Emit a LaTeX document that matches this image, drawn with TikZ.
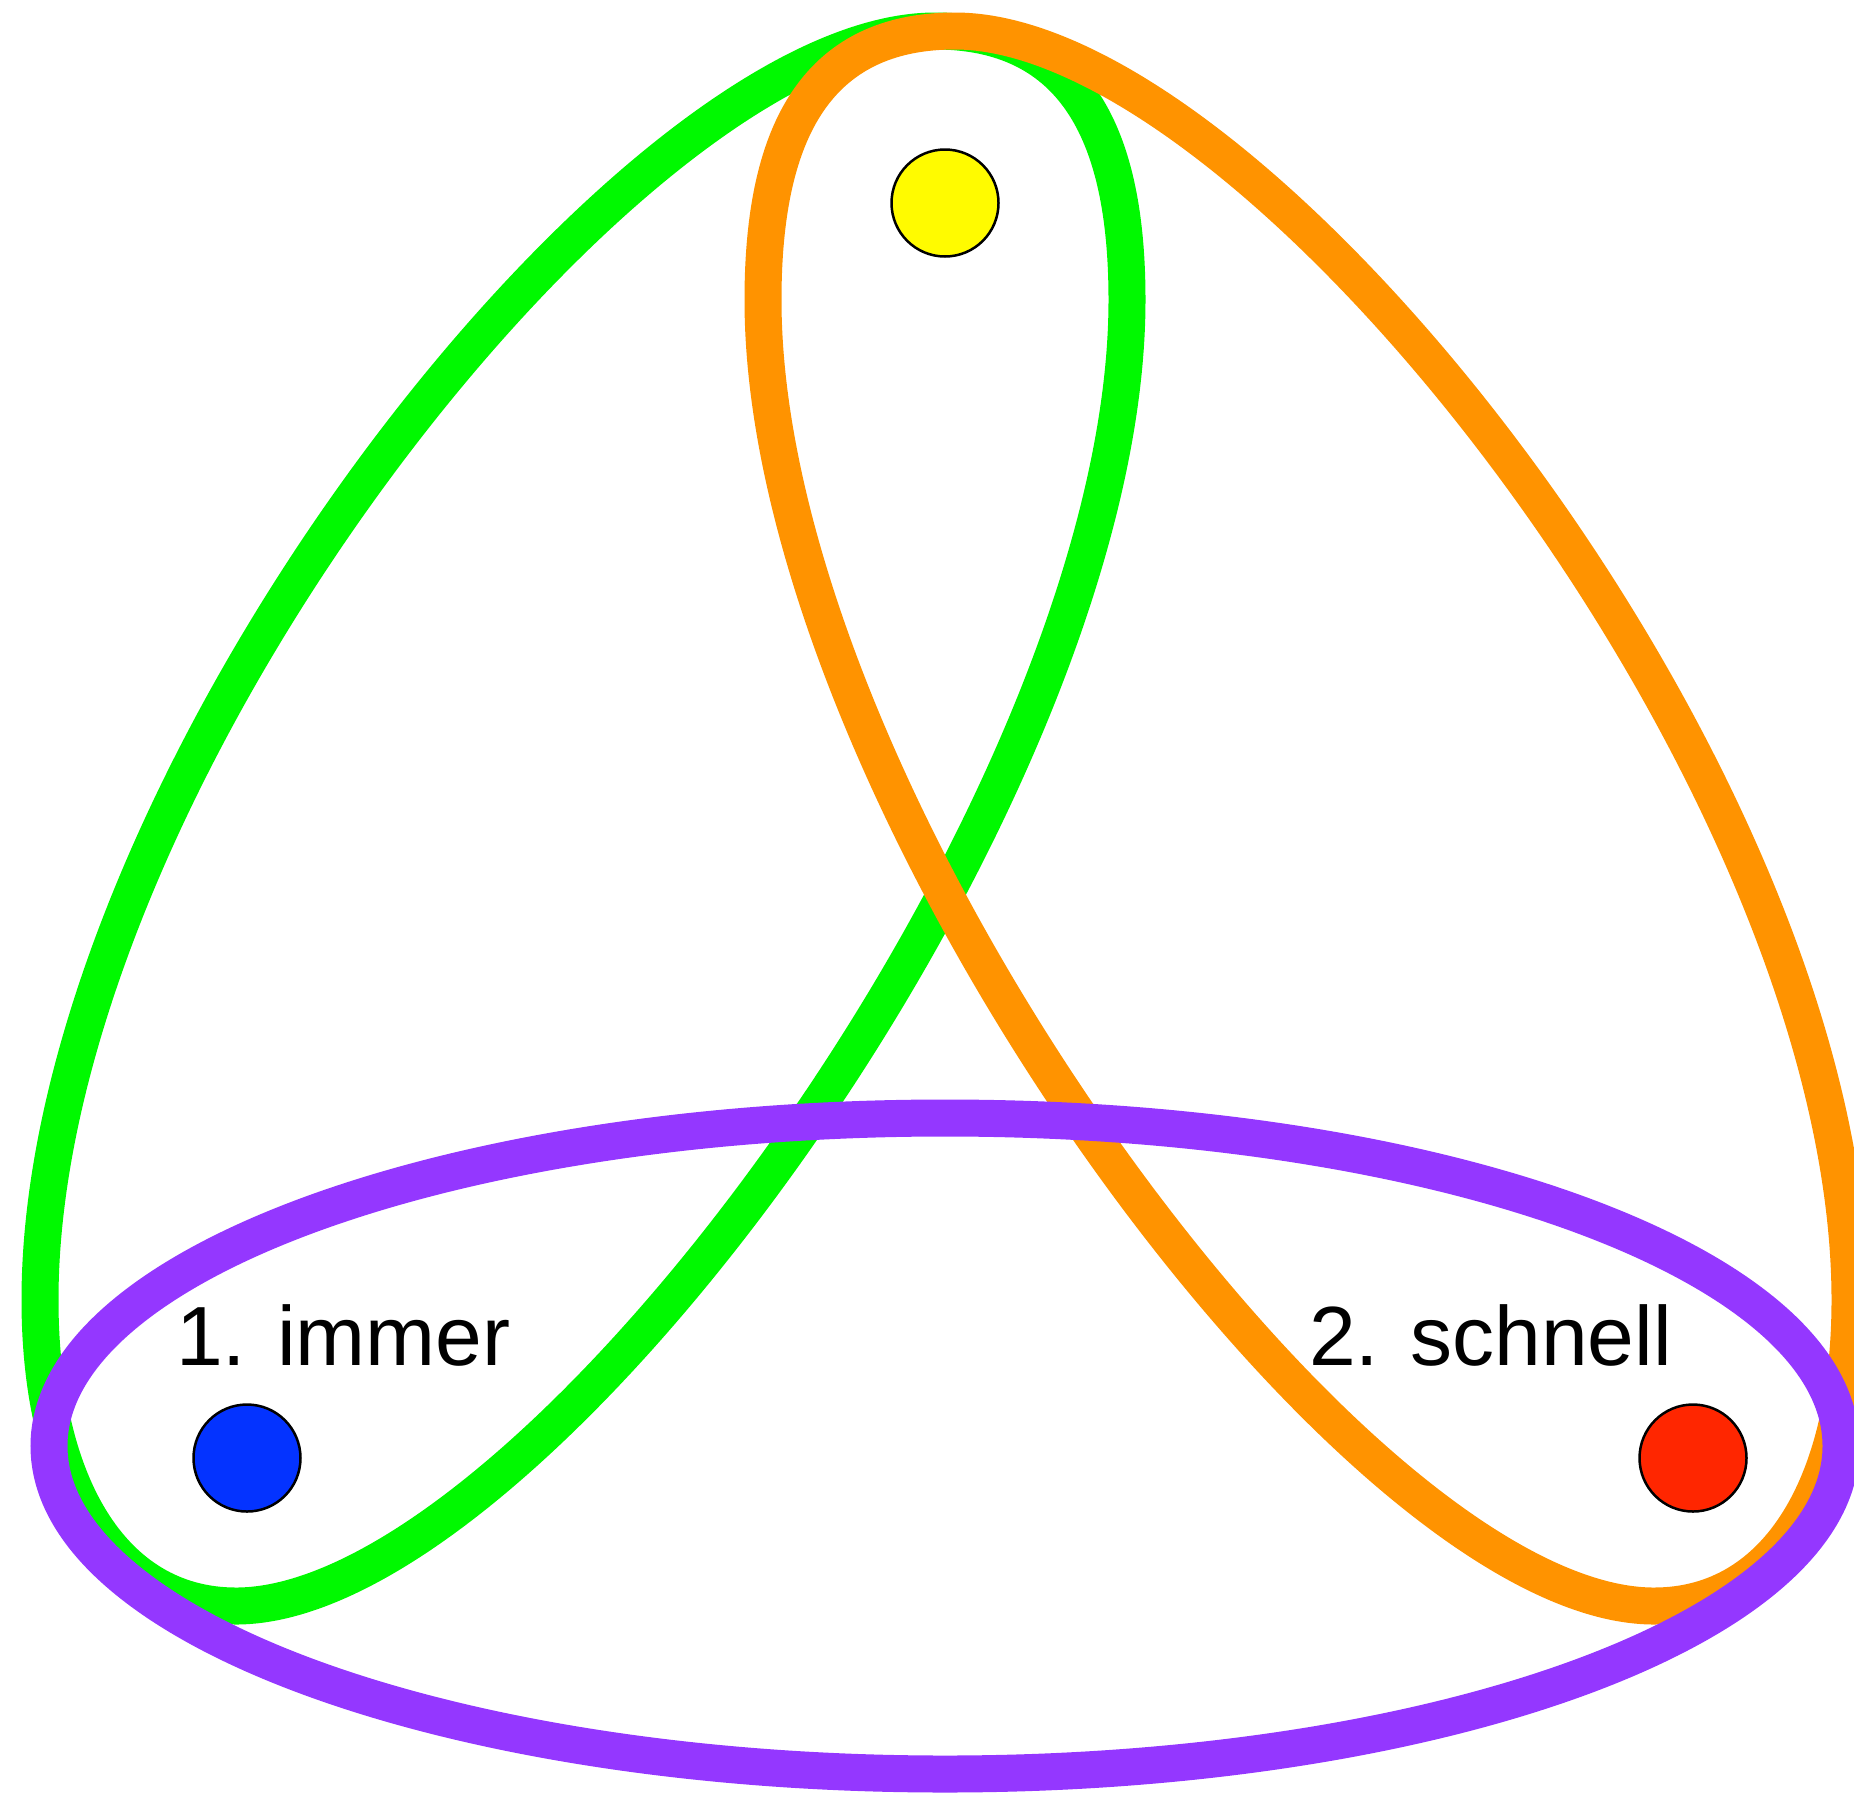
\documentclass[tikz,border=0pt]{standalone}
\usepackage{fontspec}
\setmainfont{Liberation Sans}
\usepackage{xcolor}
\definecolor{gruen}{HTML}{00F900}
\definecolor{orangeton}{HTML}{FF9300}
\definecolor{lila}{HTML}{9437FF}
\definecolor{gelb}{HTML}{FFFB00}
\definecolor{blau}{HTML}{0433FF}
\definecolor{rot}{HTML}{FF2600}
\begin{document}
\begin{tikzpicture}[x=1pt,y=-1pt,
  loop/.style={line width=37pt},
  dot/.style={circle,draw=black,line width=2.5pt,minimum size=107pt,inner sep=0pt},
  label/.style={inner sep=0pt,font=\fontsize{84}{100}\selectfont}]
% Frame
\useasboundingbox (0,0) rectangle (1854,1792);
% Green loop (top + left)
\draw[loop,gruen] (935,31) .. controls (630,31) and (40,780) .. (40,1300)
  .. controls (40,1480) and (110,1606) .. (236,1606)
  .. controls (536,1606) and (1127,800) .. (1127,300)
  .. controls (1127,150) and (1085,31) .. cycle;
% Orange loop (top + right)
\draw[loop,orangeton] (955,31) .. controls (1260,31) and (1850,780) .. (1850,1300)
  .. controls (1850,1480) and (1780,1606) .. (1654,1606)
  .. controls (1354,1606) and (763,800) .. (763,300)
  .. controls (763,150) and (805,31) .. cycle;
% Purple loop (left + right)
\draw[loop,lila] (945,1446) ellipse [x radius=896, y radius=328];
% Dots
\node[dot,fill=gelb] (oben) at (945,203) {};
\node[dot,fill=blau] (links) at (247,1458) {};
\node[dot,fill=rot] (rechts) at (1693,1458) {};
% Labels
\node[label,anchor=base west] (immer) at (176,1365) {1. immer};
\node[label,anchor=base west] (schnell) at (1309,1365) {2. schnell};
\end{tikzpicture}
\end{document}
